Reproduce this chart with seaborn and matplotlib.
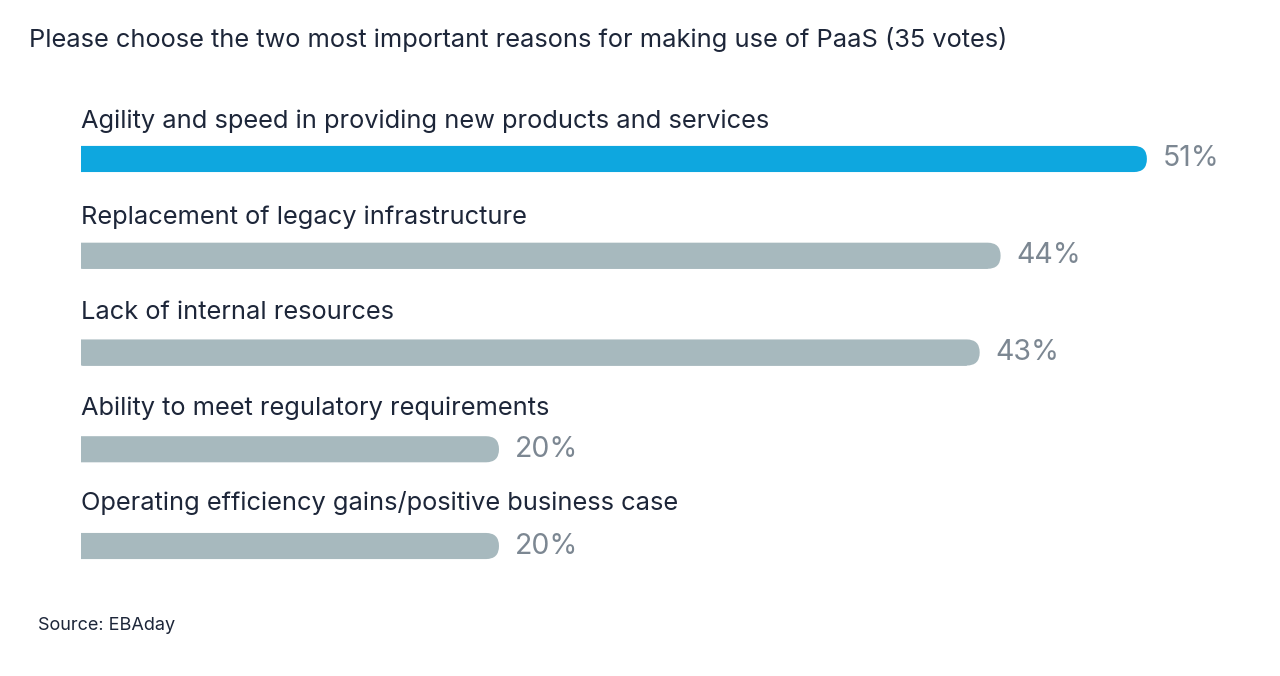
import matplotlib
matplotlib.use("Agg")
import matplotlib.pyplot as plt
from matplotlib.patches import FancyBboxPatch
import seaborn as sns
import pandas as pd

# Data
reasons = [
    "Agility and speed in providing new products and services",
    "Replacement of legacy infrastructure",
    "Lack of internal resources",
    "Ability to meet regulatory requirements",
    "Operating efficiency gains/positive business case",
]
shares = [51, 44, 43, 20, 20]
bar_colors = ["#0ea7df", "#a7b9be", "#a7b9be", "#a7b9be", "#a7b9be"]

title = "Please choose the two most important reasons for making use of PaaS (35 votes)"
source = "Source: EBAday"

df = pd.DataFrame({"reason": reasons, "share": shares})

sns.set_theme(style="white")
plt.rcParams["font.family"] = ["Inter", "DejaVu Sans"]

W, H = 1280, 676
fig = plt.figure(figsize=(W / 100, H / 100), dpi=100)
ax = fig.add_axes([81 / W, (H - 600) / H, (W - 81) / W, 540 / H])

sns.barplot(data=df, y="reason", x="share", hue="reason", palette=bar_colors,
            legend=False, width=0.27, saturation=1, ax=ax)

xmax = (W - 81) / 20.9
ax.set_xlim(0, xmax)
ax.set_ylim(4.558, -1.023)
ax.set_axis_off()

# rounded right ends, square left ends (left part clipped by the axes)
px_per_x = (W - 81) / xmax
for p in list(ax.patches):
    x0, y0, w, h = p.get_x(), p.get_y(), p.get_width(), p.get_height()
    r_x = (h * 96.75 / 2) / px_per_x
    cap = FancyBboxPatch((x0 - 2 * r_x, y0), w + 2 * r_x, h,
                         boxstyle=f"round,pad=0,rounding_size={r_x}",
                         mutation_aspect=(h / 2) / r_x,
                         facecolor=p.get_facecolor(), edgecolor="none")
    ax.add_patch(cap)
    p.set_width(w - r_x)

for i, (lab, val) in enumerate(zip(reasons, shares)):
    ax.text(0, i - 0.32 - 0.012 * i, lab, fontsize=18.3, color="#1d2639",
            va="baseline", ha="left")
    ax.text(val + 16 / px_per_x, i, f"{val}%", fontsize=20.5, color="#7c8792",
            va="center", ha="left")

fig.text(29 / W, 1 - 40 / H, title, fontsize=18.3, color="#1d2639", va="center", ha="left")
fig.text(38 / W, 1 - 625 / H, source, fontsize=13, color="#1d2639", va="center", ha="left")

fig.savefig("out.png", dpi=100, facecolor="white")
